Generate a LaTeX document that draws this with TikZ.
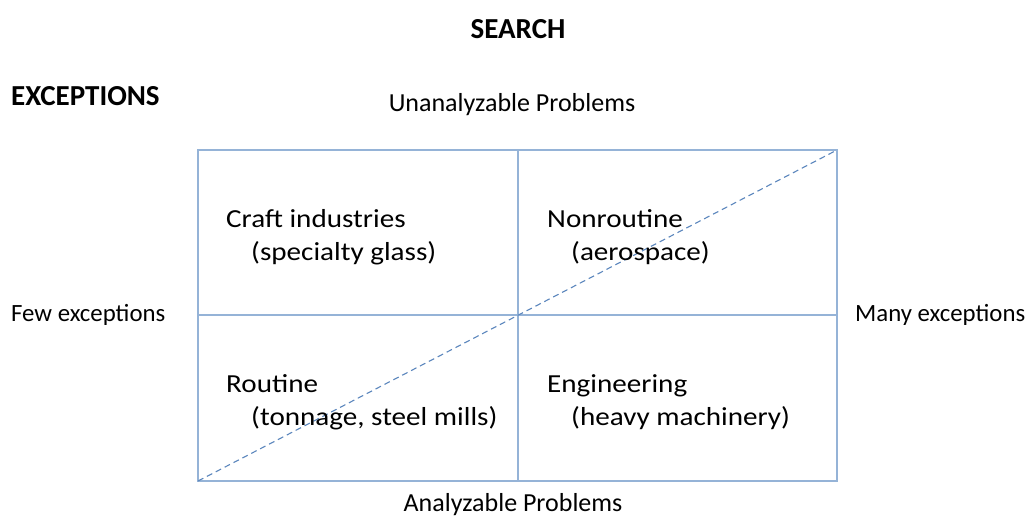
\documentclass[tikz,border=0pt]{standalone}
\usepackage{fontspec}
\setmainfont{Carlito}
\newfontfamily\innerfont[FakeStretch=1.12]{Carlito}
\definecolor{gridblue}{HTML}{95B3D7}
\definecolor{dashblue}{HTML}{5B86BD}
\begin{document}
\begin{tikzpicture}[x=1pt,y=-1pt,
  gridline/.style={draw=gridblue,line width=1.8pt},
  diagline/.style={draw=dashblue,line width=1.1pt,dash pattern=on 6pt off 4pt},
  title/.style={inner sep=0pt,font=\bfseries\fontsize{29}{34}\selectfont},
  sidelabel/.style={inner sep=0pt,anchor=base west,font=\fontsize{24.8}{30}\selectfont},
  axislabel/.style={inner sep=0pt,anchor=base,font=\fontsize{26}{31}\selectfont},
  celltext/.style={inner sep=0pt,anchor=base west,font=\innerfont\fontsize{26}{31}\selectfont}]
\useasboundingbox (0,0) rectangle (1032,523);
\fill[white] (0,0) rectangle (1032,523);
% grid corners
\coordinate (tl) at (198,150);
\coordinate (tr) at (837,150);
\coordinate (bl) at (198,481);
\coordinate (br) at (837,481);
\coordinate (tm) at (518,150);
\coordinate (bm) at (518,481);
\coordinate (lm) at (198,315);
\coordinate (rm) at (837,315);
\draw[gridline] (tl) rectangle (br);
\draw[gridline] (tm) -- (bm);
\draw[gridline] (lm) -- (rm);
\draw[diagline] (bl) -- (tr);
% titles
\node[title,anchor=base] (search) at (518,38) {SEARCH};
\node[title,anchor=base west] (exc) at (11,105) {EXCEPTIONS};
\node[axislabel] (unan) at (512,111.5) {Unanalyzable Problems};
\node[axislabel] (anal) at (513,511) {Analyzable Problems};
\node[sidelabel] (few) at (11,321) {Few exceptions};
\node[sidelabel] (many) at (855,321) {Many exceptions};
% cells
\node[celltext] (craft) at (226,227) {Craft industries};
\node[celltext] (glass) at (251,260) {(specialty glass)};
\node[celltext] (nonr) at (547,227) {Nonroutine};
\node[celltext] (aero) at (571,260) {(aerospace)};
\node[celltext] (rout) at (226,392) {Routine};
\node[celltext] (ton) at (251,425) {(tonnage, steel mills)};
\node[celltext] (eng) at (547,392) {Engineering};
\node[celltext] (heavy) at (571,425) {(heavy machinery)};
\end{tikzpicture}
\end{document}
